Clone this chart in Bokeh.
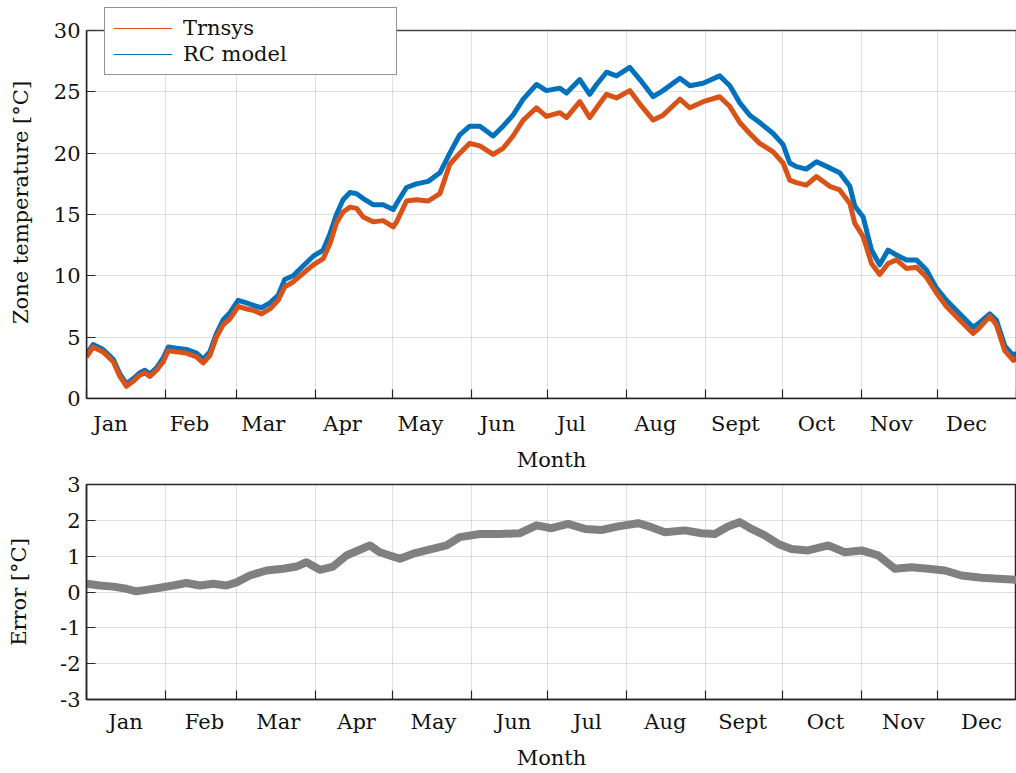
from bokeh.plotting import figure
from bokeh.models import FixedTicker, Range1d, Legend, LegendItem, BoxAnnotation
from bokeh.layouts import column
from bokeh.embed import file_html
from bokeh.resources import INLINE

# ---------------- data ----------------
months = ["Jan", "Feb", "Mar", "Apr", "May", "Jun", "Jul", "Aug", "Sept", "Oct", "Nov", "Dec"]
month_bounds = [0, 31, 59, 90, 120, 151, 181, 212, 243, 273, 304, 334, 365]   # day of year
top_label_days = [9.4, 40.4, 69.4, 100.5, 131.1, 161.3, 190.3, 223.3, 254.7, 286.5, 315.9, 345.4]
bot_label_days = [15.3, 46.3, 75.3, 106.0, 136.2, 167.6, 196.6, 227.2, 257.5, 290.0, 320.6, 351.3]

temp_days = [0, 2.6, 6.5, 10.5, 13.1, 15.7, 18.3, 20.9, 22.9, 24.9, 27.5, 30.1, 32.1, 35.3,
             39.2, 43.2, 45.8, 48.4, 51.0, 53.6, 56.3, 59.5, 62.8, 65.4, 68.7, 72.0, 75.2,
             77.8, 81.1, 85.0, 89.0, 92.9, 95.5, 98.1, 100.7, 103.4, 106.0, 108.6, 112.5,
             116.4, 120.4, 121.7, 125.6, 129.5, 134.1, 138.7, 142.6, 146.5, 150.4, 154.4,
             159.6, 163.5, 167.4, 171.4, 176.6, 180.5, 185.8, 188.4, 193.6, 197.5, 200.2,
             204.1, 208.0, 213.2, 217.2, 222.4, 226.3, 232.9, 236.8, 242.0, 248.5, 252.5,
             256.4, 260.3, 264.2, 269.5, 273.4, 276.0, 278.6, 282.5, 286.5, 291.7, 295.6,
             299.6, 301.5, 304.8, 308.1, 311.3, 314.6, 317.9, 321.8, 325.7, 329.6, 333.6,
             337.5, 342.7, 348.0, 350.6, 354.5, 357.1, 360.4, 363.7, 365]

trnsys = [3.4, 4.2, 3.8, 3.0, 1.8, 1.0, 1.4, 1.9, 2.1, 1.8, 2.3, 3.0, 3.9, 3.8,
          3.7, 3.4, 2.9, 3.5, 5.0, 6.0, 6.5, 7.5, 7.3, 7.2, 6.9, 7.3, 8.0,
          9.1, 9.5, 10.2, 10.9, 11.4, 12.6, 14.3, 15.2, 15.6, 15.5, 14.8, 14.4,
          14.5, 14.0, 14.4, 16.1, 16.2, 16.1, 16.7, 19.1, 20.0, 20.8, 20.6,
          19.9, 20.4, 21.4, 22.7, 23.7, 23.0, 23.3, 22.9, 24.2, 22.9, 23.7,
          24.8, 24.5, 25.1, 24.0, 22.7, 23.1, 24.4, 23.7, 24.2, 24.6, 23.8,
          22.5, 21.6, 20.8, 20.1, 19.2, 17.8, 17.6, 17.4, 18.1, 17.3, 17.0,
          15.9, 14.3, 13.2, 11.0, 10.1, 11.0, 11.3, 10.6, 10.7, 9.9, 8.6,
          7.5, 6.4, 5.3, 5.8, 6.7, 6.0, 3.9, 3.1, 3.3]

rc_model = [3.6, 4.4, 4.0, 3.2, 2.0, 1.2, 1.6, 2.1, 2.3, 2.0, 2.5, 3.3, 4.2, 4.1,
            4.0, 3.7, 3.2, 3.8, 5.3, 6.4, 7.0, 8.0, 7.8, 7.6, 7.4, 7.8, 8.4,
            9.7, 10.0, 10.8, 11.6, 12.1, 13.4, 15.0, 16.2, 16.8, 16.7, 16.3, 15.8,
            15.8, 15.4, 15.9, 17.2, 17.5, 17.7, 18.4, 20.0, 21.5, 22.2, 22.2,
            21.4, 22.2, 23.1, 24.4, 25.6, 25.1, 25.3, 24.9, 26.0, 24.8, 25.6,
            26.6, 26.3, 27.0, 26.0, 24.6, 25.1, 26.1, 25.5, 25.7, 26.3, 25.5,
            24.1, 23.1, 22.5, 21.6, 20.7, 19.2, 18.9, 18.7, 19.3, 18.8, 18.4,
            17.3, 15.7, 14.8, 12.1, 10.9, 12.1, 11.7, 11.3, 11.3, 10.5, 9.0,
            8.0, 6.9, 5.8, 6.2, 6.9, 6.4, 4.3, 3.5, 3.7]

err_days = [0, 5.2, 10.5, 15.7, 19.6, 23.5, 28.8, 34.0, 39.2, 44.5, 49.7, 54.9, 58.9,
            64.1, 70.6, 77.2, 82.4, 86.3, 91.6, 96.8, 102.0, 107.3, 111.2, 115.1, 119.0,
            123.0, 128.2, 136.1, 141.3, 146.5, 154.4, 162.2, 170.1, 176.6, 182.5, 189.0,
            195.6, 202.1, 208.7, 216.5, 221.7, 227.0, 234.8, 241.4, 246.6, 251.8, 256.4,
            261.0, 266.2, 271.5, 276.7, 283.2, 291.1, 297.6, 304.2, 310.7, 317.2, 323.8,
            330.3, 336.9, 343.4, 351.3, 357.8, 365]
error = [0.23, 0.18, 0.15, 0.09, 0.02, 0.06, 0.12, 0.18, 0.25, 0.18, 0.23, 0.18, 0.27,
         0.46, 0.60, 0.65, 0.71, 0.83, 0.62, 0.71, 1.02, 1.18, 1.30, 1.11, 1.02,
         0.93, 1.07, 1.21, 1.30, 1.53, 1.62, 1.62, 1.64, 1.86, 1.78, 1.90,
         1.76, 1.73, 1.83, 1.92, 1.81, 1.67, 1.72, 1.64, 1.62, 1.83, 1.95,
         1.76, 1.58, 1.34, 1.20, 1.16, 1.30, 1.11, 1.16, 1.02, 0.65, 0.69,
         0.65, 0.60, 0.46, 0.40, 0.37, 0.34]

top_yticks = [0, 5, 10, 15, 20, 25, 30]
bot_yticks = [-3, -2, -1, 0, 1, 2, 3]

# ---------------- style ----------------
FONT = "DejaVu Serif"
FS = "21px"
AX = "#262626"
TXT = "#111111"
C_TR = "#D95319"
C_RC = "#0072BD"
C_ERR = "#808080"
AXW = 1.5


def style(p, ylabel, yticks, label_days, ylab_standoff, xl_standoff, xlab_standoff):
    p.background_fill_color = "white"
    p.border_fill_color = "white"

    xa = p.xaxis[0]
    xa.ticker = FixedTicker(ticks=label_days, minor_ticks=month_bounds)
    xa.major_label_overrides = {d: m for d, m in zip(label_days, months)}
    xa.major_tick_line_color = None
    xa.major_tick_in = 0
    xa.major_tick_out = 0
    xa.minor_tick_in = 9
    xa.minor_tick_out = 0
    xa.minor_tick_line_color = AX
    xa.minor_tick_line_width = 1.2
    xa.axis_line_color = AX
    xa.axis_line_width = AXW
    xa.axis_label = "Month"
    xa.major_label_standoff = xl_standoff
    xa.axis_label_standoff = xlab_standoff

    ya = p.yaxis[0]
    ya.ticker = FixedTicker(ticks=yticks)
    ya.bounds = (yticks[0], yticks[-1])
    ya.major_label_overrides = {t: str(t) for t in yticks}
    ya.major_tick_in = 9
    ya.major_tick_out = 0
    ya.minor_tick_line_color = None
    ya.major_tick_line_color = AX
    ya.major_tick_line_width = 1.2
    ya.axis_line_color = AX
    ya.axis_line_width = AXW
    ya.axis_label = ylabel
    ya.major_label_standoff = 6
    ya.axis_label_standoff = ylab_standoff

    for a in (xa, ya):
        a.major_label_text_font = FONT
        a.major_label_text_font_size = FS
        a.major_label_text_color = TXT
        a.axis_label_text_font = FONT
        a.axis_label_text_font_size = FS
        a.axis_label_text_font_style = "normal"
        a.axis_label_text_color = TXT

    p.xgrid.ticker = FixedTicker(ticks=month_bounds)
    p.ygrid.ticker = FixedTicker(ticks=yticks)
    for g in (p.xgrid[0], p.ygrid[0]):
        g.grid_line_color = AX
        g.grid_line_alpha = 0.15
        g.grid_line_width = 1


# ---------------- top plot ----------------
# frame is extended 24 px above the 30 degC line so that the legend can overlap the box top
frame_h = 368
extra_px = 24
p1 = figure(width=1016, height=474, x_range=Range1d(0, 365),
            y_range=Range1d(0, 30 * (frame_h + extra_px) / frame_h),
            output_backend="svg", toolbar_location=None,
            min_border_left=86, min_border_right=0, min_border_top=6, min_border_bottom=76)
style(p1, "Zone temperature [°C]", top_yticks, top_label_days, 18, 13, 9)
p1.outline_line_color = None

p1.line(temp_days, rc_model, line_color=C_RC, line_width=5, line_join="round")
r_rc = p1.line(temp_days, rc_model, line_color=C_RC, line_width=1.2)
p1.line(temp_days, trnsys, line_color=C_TR, line_width=5, line_join="round")
r_tr = p1.line(temp_days, trnsys, line_color=C_TR, line_width=1.2)

# blank strip above the axes box, then the box itself
p1.add_layout(BoxAnnotation(bottom=30, fill_color="white", fill_alpha=1.0, line_color=None))
p1.add_layout(BoxAnnotation(left=0, right=365, bottom=0, top=30, fill_alpha=0.0,
                            line_color=AX, line_width=1.6, line_alpha=0.85))

legend = Legend(items=[LegendItem(label="Trnsys", renderers=[r_tr]),
                       LegendItem(label="RC model", renderers=[r_rc])],
                location=(18, 323), margin=0, padding=8, spacing=2,
                glyph_width=59, glyph_height=24, label_height=24, label_width=205,
                label_standoff=11,
                label_text_font=FONT, label_text_font_size=FS, label_text_color=TXT,
                border_line_color=AX, border_line_width=1.2, background_fill_color="white",
                background_fill_alpha=1.0)
p1.add_layout(legend)

# ---------------- bottom plot ----------------
p2 = figure(width=1016, height=299, x_range=Range1d(0, 365), y_range=Range1d(-3, 3),
            output_backend="svg", toolbar_location=None,
            min_border_left=86, min_border_right=0, min_border_top=10, min_border_bottom=74)
style(p2, "Error [°C]", bot_yticks, bot_label_days, 26, 10, 9)
p2.outline_line_color = AX
p2.outline_line_width = AXW
p2.line(err_days, error, line_color=C_ERR, line_width=8, line_join="round")

layout = column(p1, p2, spacing=0)
open("out.html", "w").write(file_html(layout, INLINE))
